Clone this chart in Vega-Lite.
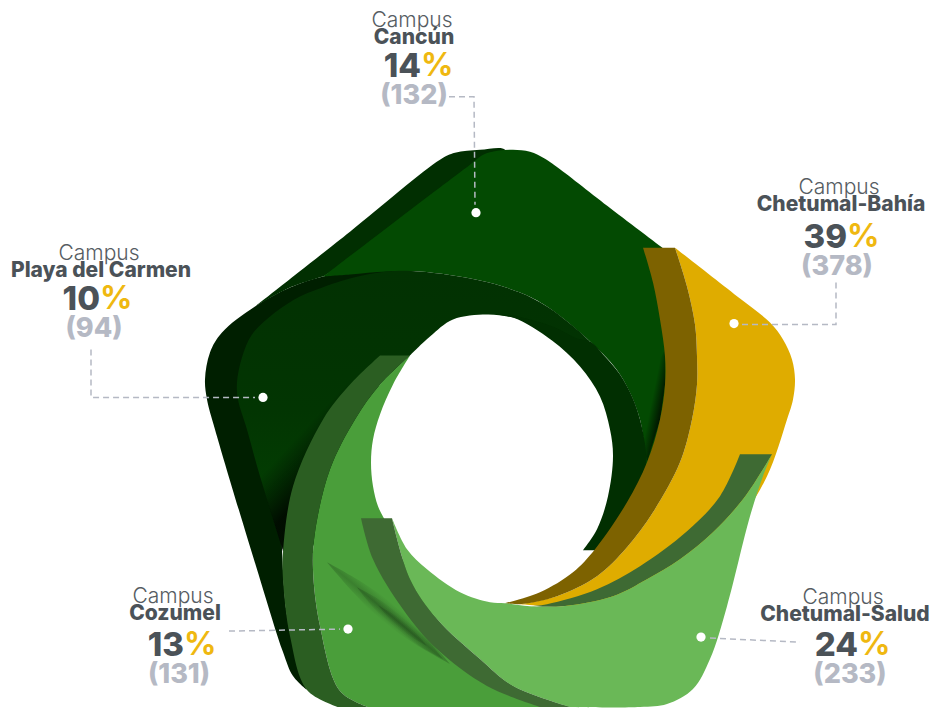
{"$schema":"https://vega.github.io/schema/vega-lite/v6.json","width":933,"height":708,"autosize":{"type":"fit","contains":"padding"},"padding":0,"background":"white","view":{"stroke":null},
"datasets":{
"back":[{"x":-245,"y":-93},{"x":-210,"y":-112},{"x":-177,"y":-123},{"x":-140,"y":-128},{"x":-100,"y":-129},{"x":-80,"y":-127},{"x":-80,"y":-127},{"x":-100,"y":-100},{"x":-200,"y":0},{"x":-215,"y":200},{"x":-193,"y":291},{"x":-193,"y":291},{"x":-207,"y":277},{"x":-217,"y":253},{"x":-240,"y":180},{"x":-285,"y":30},{"x":-293,"y":0},{"x":-295,"y":-20},{"x":-290,"y":-47},{"x":-278,"y":-67}],
"cancunBack":[{"x":-245,"y":-93},{"x":-245,"y":-93},{"x":-150,"y":-168},{"x":-60,"y":-240},{"x":-45,"y":-247},{"x":-20,"y":-250},{"x":5,"y":-250},{"x":0,"y":-230},{"x":0,"y":-230},{"x":-177,"y":-123},{"x":-177,"y":-123},{"x":-210,"y":-112}],
"cancun":[{"x":-177,"y":-123},{"x":-177,"y":-123},{"x":-100,"y":-182},{"x":-30,"y":-235},{"x":-17,"y":-245},{"x":-3,"y":-249},{"x":13,"y":-250},{"x":30,"y":-248},{"x":45,"y":-241},{"x":58,"y":-232},{"x":111,"y":-191},{"x":165,"y":-150},{"x":165,"y":-150},{"x":180,"y":-100},{"x":180,"y":0},{"x":165,"y":50},{"x":146,"y":70},{"x":146,"y":70},{"x":140,"y":20},{"x":120,"y":-25},{"x":90,"y":-58},{"x":47,"y":-93},{"x":20,"y":-107},{"x":-20,"y":-119},{"x":-80,"y":-128},{"x":-113,"y":-128},{"x":-150,"y":-125}],
"cancunShade":[{"x":165,"y":-50},{"x":165,"y":-15},{"x":160,"y":20},{"x":147,"y":63},{"x":143,"y":40},{"x":150,"y":-10},{"x":160,"y":-40}],
"playa":[{"x":-248,"y":-65},{"x":-225,"y":-87},{"x":-200,"y":-103},{"x":-183,"y":-110},{"x":-150,"y":-121},{"x":-113,"y":-128},{"x":-80,"y":-128},{"x":-20,"y":-119},{"x":20,"y":-107},{"x":47,"y":-93},{"x":77,"y":-70},{"x":90,"y":-58},{"x":90,"y":-58},{"x":77,"y":-60},{"x":47,"y":-72},{"x":13,"y":-82},{"x":-13,"y":-85},{"x":-47,"y":-80},{"x":-70,"y":-63},{"x":-90,"y":-44},{"x":-90,"y":-44},{"x":-120,"y":-15},{"x":-120,"y":-15},{"x":-160,"y":80},{"x":-160,"y":80},{"x":-200,"y":180},{"x":-200,"y":180},{"x":-217,"y":150},{"x":-217,"y":150},{"x":-240,"y":77},{"x":-253,"y":30},{"x":-262,"y":0},{"x":-263,"y":-17},{"x":-258,"y":-42}],
"playaShade":[{"x":-150,"y":-20},{"x":-170,"y":30},{"x":-200,"y":100},{"x":-205,"y":150},{"x":-217,"y":152},{"x":-240,"y":78}],
"ring":[{"x":-10,"y":-85},{"x":-10,"y":-85},{"x":13,"y":-84},{"x":30,"y":-80},{"x":55,"y":-72},{"x":77,"y":-61},{"x":90,"y":-58},{"x":105,"y":-43},{"x":120,"y":-25},{"x":132,"y":-3},{"x":140,"y":20},{"x":145,"y":45},{"x":146,"y":67},{"x":140,"y":100},{"x":120,"y":130},{"x":100,"y":151},{"x":100,"y":151},{"x":83,"y":151},{"x":83,"y":151},{"x":97,"y":130},{"x":108,"y":97},{"x":113,"y":57},{"x":110,"y":30},{"x":100,"y":-3},{"x":80,"y":-33},{"x":52,"y":-59},{"x":13,"y":-82}],
"cozumel":[{"x":-90,"y":-44},{"x":-90,"y":-44},{"x":-107,"y":-15},{"x":-120,"y":15},{"x":-127,"y":40},{"x":-129,"y":63},{"x":-127,"y":87},{"x":-122,"y":107},{"x":-116,"y":119},{"x":-116,"y":119},{"x":-63,"y":220},{"x":13,"y":287},{"x":70,"y":308},{"x":70,"y":308},{"x":-132,"y":308},{"x":-132,"y":308},{"x":-160,"y":292},{"x":-180,"y":227},{"x":-187,"y":170},{"x":-185,"y":133},{"x":-170,"y":70},{"x":-145,"y":20},{"x":-120,"y":-15}],
"streak1":[{"x":-173,"y":163},{"x":-173,"y":163},{"x":-138,"y":183},{"x":-105,"y":206},{"x":-77,"y":234},{"x":-50,"y":265},{"x":-50,"y":265},{"x":-85,"y":245},{"x":-118,"y":222},{"x":-146,"y":194}],
"streak2":[{"x":-143,"y":188},{"x":-143,"y":188},{"x":-118,"y":202},{"x":-96,"y":219},{"x":-75,"y":238},{"x":-57,"y":260},{"x":-57,"y":260},{"x":-82,"y":246},{"x":-104,"y":229},{"x":-125,"y":210}],
"streak3":[{"x":-122,"y":206},{"x":-122,"y":206},{"x":-108,"y":214},{"x":-95,"y":223},{"x":-83,"y":235},{"x":-73,"y":247},{"x":-73,"y":247},{"x":-87,"y":239},{"x":-100,"y":230},{"x":-112,"y":218}],
"cozBand":[{"x":-120,"y":-44},{"x":-120,"y":-44},{"x":-90,"y":-44},{"x":-90,"y":-44},{"x":-120,"y":-15},{"x":-145,"y":20},{"x":-170,"y":70},{"x":-185,"y":133},{"x":-187,"y":170},{"x":-180,"y":227},{"x":-160,"y":292},{"x":-132,"y":308},{"x":-132,"y":308},{"x":-162,"y":308},{"x":-162,"y":308},{"x":-193,"y":291},{"x":-210,"y":237},{"x":-217,"y":180},{"x":-217,"y":153},{"x":-207,"y":87},{"x":-177,"y":20},{"x":-150,"y":-15}],
"ochre":[{"x":175,"y":-152},{"x":175,"y":-152},{"x":240,"y":-101},{"x":270,"y":-77},{"x":283,"y":-60},{"x":292,"y":-40},{"x":295,"y":-20},{"x":293,"y":0},{"x":287,"y":20},{"x":267,"y":77},{"x":240,"y":120},{"x":190,"y":170},{"x":140,"y":195},{"x":80,"y":207},{"x":20,"y":205},{"x":20,"y":205},{"x":57,"y":197},{"x":97,"y":177},{"x":127,"y":148},{"x":153,"y":113},{"x":180,"y":63},{"x":192,"y":20},{"x":197,"y":-15},{"x":197,"y":-43},{"x":195,"y":-75},{"x":187,"y":-113}],
"ochreBand":[{"x":143,"y":-152},{"x":143,"y":-152},{"x":175,"y":-152},{"x":175,"y":-152},{"x":187,"y":-113},{"x":195,"y":-75},{"x":197,"y":-43},{"x":197,"y":-15},{"x":192,"y":20},{"x":180,"y":63},{"x":153,"y":113},{"x":127,"y":148},{"x":97,"y":177},{"x":57,"y":197},{"x":20,"y":205},{"x":5,"y":204},{"x":5,"y":204},{"x":40,"y":193},{"x":73,"y":173},{"x":95,"y":150},{"x":127,"y":103},{"x":147,"y":63},{"x":160,"y":20},{"x":165,"y":-15},{"x":165,"y":-43},{"x":160,"y":-80},{"x":153,"y":-117}],
"gray":[{"x":240,"y":55},{"x":240,"y":55},{"x":272,"y":55},{"x":272,"y":55},{"x":263,"y":70},{"x":243,"y":100},{"x":213,"y":133},{"x":180,"y":160},{"x":147,"y":180},{"x":113,"y":197},{"x":63,"y":207},{"x":30,"y":207},{"x":30,"y":207},{"x":47,"y":205},{"x":97,"y":190},{"x":140,"y":167},{"x":187,"y":132},{"x":220,"y":97}],
"salud":[{"x":-108,"y":119},{"x":-108,"y":119},{"x":-93,"y":150},{"x":-73,"y":170},{"x":-40,"y":193},{"x":-10,"y":203},{"x":5,"y":204},{"x":30,"y":207},{"x":63,"y":207},{"x":113,"y":197},{"x":147,"y":180},{"x":180,"y":160},{"x":213,"y":133},{"x":243,"y":100},{"x":263,"y":70},{"x":272,"y":55},{"x":272,"y":55},{"x":263,"y":77},{"x":250,"y":117},{"x":227,"y":207},{"x":210,"y":260},{"x":193,"y":290},{"x":167,"y":305},{"x":140,"y":308},{"x":70,"y":308},{"x":70,"y":308},{"x":13,"y":287},{"x":-20,"y":260},{"x":-63,"y":220},{"x":-90,"y":180}],
"saludBand":[{"x":-139,"y":119},{"x":-139,"y":119},{"x":-108,"y":119},{"x":-108,"y":119},{"x":-90,"y":180},{"x":-63,"y":220},{"x":-20,"y":260},{"x":13,"y":287},{"x":70,"y":308},{"x":70,"y":308},{"x":40,"y":308},{"x":40,"y":308},{"x":-13,"y":287},{"x":-63,"y":250},{"x":-97,"y":210},{"x":-127,"y":160}],
"leaders":[{"campus":"Cancún","x":-51,"y":-303},{"campus":"Cancún","x":-26,"y":-303},{"campus":"Cancún","x":-25,"y":-195},{"campus":"Chetumal-Bahía","x":242,"y":-75},{"campus":"Chetumal-Bahía","x":336,"y":-75},{"campus":"Chetumal-Bahía","x":336,"y":-119},{"campus":"Chetumal-Salud","x":210,"y":239},{"campus":"Chetumal-Salud","x":300,"y":243},{"campus":"Cozumel","x":-271,"y":232},{"campus":"Cozumel","x":-160,"y":230},{"campus":"Playa del Carmen","x":-409,"y":-50},{"campus":"Playa del Carmen","x":-409,"y":-2},{"campus":"Playa del Carmen","x":-245,"y":-2}],
"campuses":[
{"campus":"Cancún","share":"14","count":"(132)","x":-86,"y":-335,"ny":-363,"xs":-79,"xc":-86,"dotx":-24,"doty":-187},
{"campus":"Chetumal-Bahía","share":"39","count":"(378)","x":341,"y":-164,"ny":-196,"xs":347,"xc":337,"dotx":234,"doty":-76},
{"campus":"Chetumal-Salud","share":"24","count":"(233)","x":345,"y":245,"ny":215,"xs":358,"xc":350,"dotx":201,"doty":238},
{"campus":"Cozumel","share":"13","count":"(131)","x":-325,"y":245,"ny":214,"xs":-316,"xc":-321,"dotx":-152,"doty":230},
{"campus":"Playa del Carmen","share":"10","count":"(94)","x":-399,"y":-102,"ny":-130,"xs":-400,"xc":-406,"dotx":-237,"doty":-2}]
},
"encoding":{"x":{"field":"x","type":"quantitative","scale":{"domain":[-500,433],"nice":false,"zero":false},"axis":null},"y":{"field":"y","type":"quantitative","scale":{"domain":[308,-400],"nice":false,"zero":false},"axis":null}},
"layer":[
{"data":{"name":"back"},"mark":{"type":"line","interpolate":"catmull-rom-closed","fill":"#001f00","strokeWidth":0},"encoding":{"order":{"value":null}}},
{"data":{"name":"cancunBack"},"mark":{"type":"line","interpolate":"catmull-rom-closed","fill":"#012f01","strokeWidth":0},"encoding":{"order":{"value":null}}},
{"data":{"name":"cancun"},"mark":{"type":"line","interpolate":"catmull-rom-closed","fill":"#034a02","strokeWidth":0},"encoding":{"order":{"value":null}}},
{"data":{"name":"cancunShade"},"mark":{"type":"line","interpolate":"linear-closed","strokeWidth":0,"fill":{"gradient":"linear","x1":0.4,"y1":0.45,"x2":0.73,"y2":0.79,"stops":[{"offset":0,"color":"rgba(0,0,0,0)"},{"offset":1,"color":"rgba(0,0,0,0.9)"}]}},"encoding":{"order":{"value":null}}},
{"data":{"name":"playa"},"mark":{"type":"line","interpolate":"catmull-rom-closed","strokeWidth":0,"fill":{"gradient":"linear","x1":0.5,"y1":0,"x2":0.5,"y2":1,"stops":[{"offset":0,"color":"#023102"},{"offset":0.45,"color":"#023502"},{"offset":1,"color":"#034602"}]}},"encoding":{"order":{"value":null}}},
{"data":{"name":"playaShade"},"mark":{"type":"line","interpolate":"linear-closed","strokeWidth":0,"fill":{"gradient":"linear","x1":0.5,"y1":0.285,"x2":0.662,"y2":0.57,"stops":[{"offset":0,"color":"rgba(0,0,0,0)"},{"offset":1,"color":"rgba(0,0,0,0.8)"}]}},"encoding":{"order":{"value":null}}},
{"data":{"name":"ring"},"mark":{"type":"line","interpolate":"catmull-rom-closed","fill":"#012f01","strokeWidth":0},"encoding":{"order":{"value":null}}},
{"data":{"name":"cozumel"},"mark":{"type":"line","interpolate":"catmull-rom-closed","fill":"#4a9e3a","strokeWidth":0},"encoding":{"order":{"value":null}}},
{"data":{"name":"streak1"},"mark":{"type":"line","interpolate":"catmull-rom-closed","strokeWidth":0,"fill":{"gradient":"linear","x1":0.4375,"y1":0.5625,"x2":0.5625,"y2":0.4375,"stops":[{"offset":0,"color":"rgba(30,70,25,0)"},{"offset":0.5,"color":"rgba(30,70,25,0.35)"},{"offset":1,"color":"rgba(30,70,25,0)"}]}},"encoding":{"order":{"value":null}}},
{"data":{"name":"streak2"},"mark":{"type":"line","interpolate":"catmull-rom-closed","strokeWidth":0,"fill":{"gradient":"linear","x1":0.4375,"y1":0.5625,"x2":0.5625,"y2":0.4375,"stops":[{"offset":0,"color":"rgba(30,70,25,0)"},{"offset":0.5,"color":"rgba(30,70,25,0.35)"},{"offset":1,"color":"rgba(30,70,25,0)"}]}},"encoding":{"order":{"value":null}}},
{"data":{"name":"streak3"},"mark":{"type":"line","interpolate":"catmull-rom-closed","strokeWidth":0,"fill":{"gradient":"linear","x1":0.4375,"y1":0.5625,"x2":0.5625,"y2":0.4375,"stops":[{"offset":0,"color":"rgba(30,70,25,0)"},{"offset":0.5,"color":"rgba(30,70,25,0.35)"},{"offset":1,"color":"rgba(30,70,25,0)"}]}},"encoding":{"order":{"value":null}}},
{"data":{"name":"cozBand"},"mark":{"type":"line","interpolate":"catmull-rom-closed","fill":"#2b5e22","strokeWidth":0},"encoding":{"order":{"value":null}}},
{"data":{"name":"ochre"},"mark":{"type":"line","interpolate":"catmull-rom-closed","fill":"#dfac00","strokeWidth":0},"encoding":{"order":{"value":null}}},
{"data":{"name":"ochreBand"},"mark":{"type":"line","interpolate":"catmull-rom-closed","fill":"#7d6200","strokeWidth":0},"encoding":{"order":{"value":null}}},
{"data":{"name":"gray"},"mark":{"type":"line","interpolate":"catmull-rom-closed","fill":"#3e6a33","strokeWidth":0},"encoding":{"order":{"value":null}}},
{"data":{"name":"salud"},"mark":{"type":"line","interpolate":"catmull-rom-closed","fill":"#6ab857","strokeWidth":0},"encoding":{"order":{"value":null}}},
{"data":{"name":"saludBand"},"mark":{"type":"line","interpolate":"catmull-rom-closed","fill":"#3e6a33","strokeWidth":0},"encoding":{"order":{"value":null}}},
{"data":{"name":"leaders"},"mark":{"type":"line","stroke":"#b5b9c4","strokeWidth":1.5,"strokeDash":[6,4]},"encoding":{"detail":{"field":"campus"},"order":{"value":null}}},
{"data":{"name":"campuses"},"mark":{"type":"circle","color":"white","opacity":1,"size":85},"encoding":{"x":{"field":"dotx","type":"quantitative"},"y":{"field":"doty","type":"quantitative"}}},
{"data":{"name":"campuses"},"mark":{"type":"text","text":"Campus","font":"Inter","fontSize":21,"fontWeight":300,"color":"#565c62","baseline":"middle","dy":-16,"dx":-2},"encoding":{"y":{"field":"ny","type":"quantitative"}}},
{"data":{"name":"campuses"},"mark":{"type":"text","font":"Inter","fontSize":21,"fontWeight":800,"color":"#4b5258","baseline":"middle","dy":1},"encoding":{"y":{"field":"ny","type":"quantitative"},"text":{"field":"campus"}}},
{"data":{"name":"campuses"},"mark":{"type":"text","font":"Inter","fontSize":33,"fontWeight":800,"color":"#4b5258","baseline":"middle","align":"right","dy":2},"encoding":{"x":{"field":"xs","type":"quantitative"},"text":{"field":"share"}}},
{"data":{"name":"campuses"},"mark":{"type":"text","text":"%","font":"Inter","fontSize":32,"fontWeight":700,"color":"#efb810","baseline":"middle","align":"left","dx":0,"dy":1},"encoding":{"x":{"field":"xs","type":"quantitative"}}},
{"data":{"name":"campuses"},"mark":{"type":"text","font":"Inter","fontSize":27,"fontWeight":800,"color":"#b5b9c4","baseline":"middle","dy":31},"encoding":{"x":{"field":"xc","type":"quantitative"},"text":{"field":"count"}}}
]}
